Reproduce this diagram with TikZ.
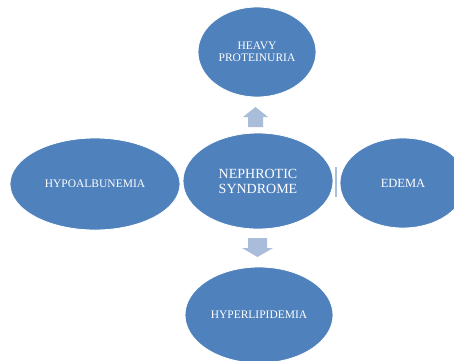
\documentclass[tikz,border=0pt]{standalone}
\usepackage{fontspec}
\setmainfont{Liberation Serif}
\usetikzlibrary{shapes.geometric}
\definecolor{ovalblue}{HTML}{4F81BD}
\definecolor{arrowblue}{HTML}{A9BDDA}
\begin{document}
\begin{tikzpicture}[x=1pt,y=-1pt,
  oval/.style={ellipse,fill=ovalblue,draw=white,line width=0.8pt,inner sep=0pt,
    text=white,align=center,font=\fontsize{11.5}{12.5}\selectfont},
  blockarrow/.style={fill=arrowblue,draw=none}]
\clip (0,0) rectangle (454,360);
\fill[white] (0,0) rectangle (454,360);
% center
\node[oval,minimum width=150pt,minimum height=96pt,font=\fontsize{14}{15}\selectfont] (center) at (258,181) {NEPHROTIC\\SYNDROME};
\node[oval,minimum width=118pt,minimum height=90pt] (top) at (257,52) {HEAVY\\PROTEINURIA};
\node[oval,minimum width=170pt,minimum height=92pt] (left) at (95,184) {HYPOALBUNEMIA};
\node[oval,minimum width=126pt,minimum height=90pt,font=\fontsize{12.5}{13.5}\selectfont] (right) at (403,183) {EDEMA};
\node[oval,minimum width=148pt,minimum height=96pt] (bottom) at (259,315) {HYPERLIPIDEMIA};
% up arrow
\fill[blockarrow] (255.5,107) -- (268,117) -- (263,117) -- (263,127) -- (248,127) -- (248,117) -- (243,117) -- cycle;
% down arrow
\fill[blockarrow] (248,238) -- (267,238) -- (267,248) -- (273,248) -- (257.5,257) -- (242,248) -- (248,248) -- cycle;
% hidden right arrow sliver
\fill[arrowblue] (335,167) rectangle (337,197);
\end{tikzpicture}
\end{document}
